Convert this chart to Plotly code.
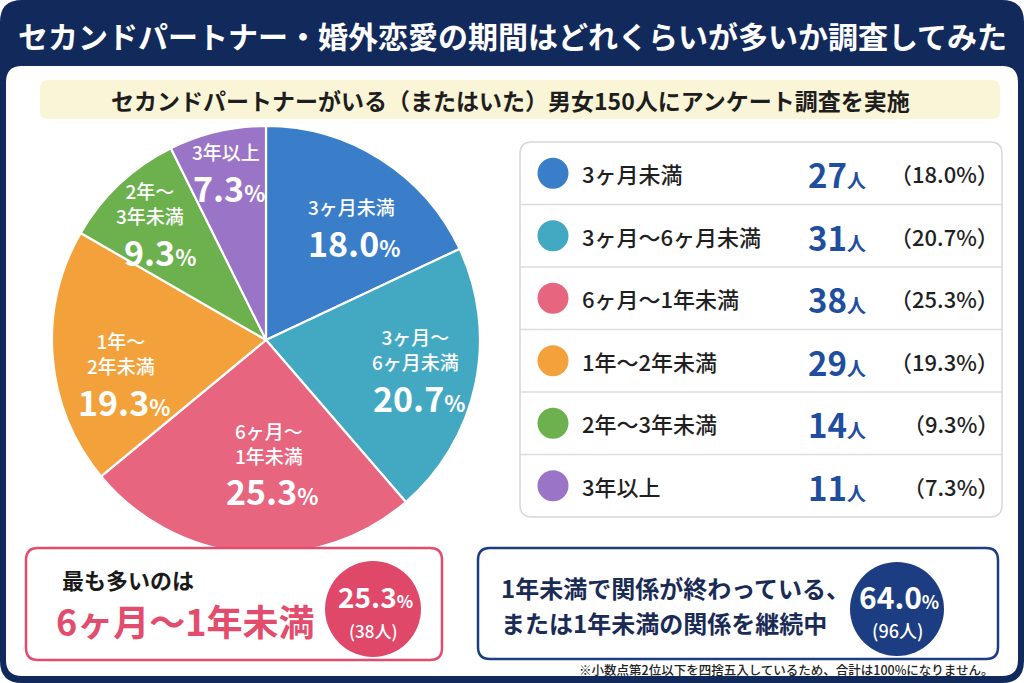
import math
import plotly.graph_objects as go

# ---------------- data ----------------
categories = ["3ヶ月未満", "3ヶ月～6ヶ月未満", "6ヶ月～1年未満", "1年～2年未満", "2年～3年未満", "3年以上"]
pie_labels = ["3ヶ月未満", "3ヶ月～<br>6ヶ月未満", "6ヶ月～<br>1年未満", "1年～<br>2年未満", "2年～<br>3年未満", "3年以上"]
counts = [27, 31, 38, 29, 14, 11]
colors = ["#3a7dc8", "#43a9c2", "#e8657f", "#f3a23b", "#6cb14e", "#9a74c7"]

title_text = "セカンドパートナー・婚外恋愛の期間はどれくらいが多いか調査してみた"
subtitle_text = "セカンドパートナーがいる（またはいた）男女150人にアンケート調査を実施"
top_intro = "最も多いのは"
under_year_lines = ["1年未満で関係が終わっている、", "または1年未満の関係を継続中"]
footnote = "※小数点第2位以下を四捨五入しているため、合計は100%になりません。"

# ---------------- layout helpers ----------------
W, H = 1024, 683
FONT = "Noto Sans CJK JP, Noto Sans, sans-serif"
NAVY = "#12295b"
PINK = "#e24d6d"
BLUE_NUM = "#1f4e9e"


def X(px):
    return px / W


def Y(py):
    return 1 - py / H


def rrect(x0, y0, x1, y1, r):
    return (f"M {X(x0 + r)},{Y(y0)} L {X(x1 - r)},{Y(y0)} Q {X(x1)},{Y(y0)} {X(x1)},{Y(y0 + r)} "
            f"L {X(x1)},{Y(y1 - r)} Q {X(x1)},{Y(y1)} {X(x1 - r)},{Y(y1)} "
            f"L {X(x0 + r)},{Y(y1)} Q {X(x0)},{Y(y1)} {X(x0)},{Y(y1 - r)} "
            f"L {X(x0)},{Y(y0 + r)} Q {X(x0)},{Y(y0)} {X(x0 + r)},{Y(y0)} Z")


def circle(cx, cy, r, fill, layer="above"):
    return dict(type="circle", xref="paper", yref="paper",
                x0=X(cx - r), x1=X(cx + r), y0=Y(cy + r), y1=Y(cy - r),
                fillcolor=fill, line=dict(width=0, color=fill), layer=layer)


def ann(text, x, y, size, color, weight=700, xanchor="center", yanchor="middle", align="center"):
    return dict(text=text, x=X(x), y=Y(y), xref="paper", yref="paper", showarrow=False,
                xanchor=xanchor, yanchor=yanchor, align=align,
                font=dict(family=FONT, size=size, color=color, weight=weight))


total = sum(counts)
pcts = [c / total * 100 for c in counts]

shapes = []
annotations = []

# frame and panels
shapes.append(dict(type="path", xref="paper", yref="paper", path=rrect(0, 0, W, H, 22),
                   fillcolor=NAVY, line=dict(width=0), layer="below"))
shapes.append(dict(type="path", xref="paper", yref="paper", path=rrect(6, 66, 1018, 676, 16),
                   fillcolor="white", line=dict(width=0), layer="below"))
shapes.append(dict(type="path", xref="paper", yref="paper", path=rrect(40, 80, 1000, 119, 8),
                   fillcolor="#fbf5d8", line=dict(width=0), layer="below"))

annotations.append(ann(title_text, 512, 35, 30, "white", 700))
annotations.append(ann(subtitle_text, 510, 100, 23, "#1e1e1e", 700))

# ---------------- pie ----------------
PCX, PCY, PR = 266, 340, 214
fig = go.Figure()
fig.add_trace(go.Pie(
    values=counts, labels=categories, sort=False, direction="clockwise", rotation=0,
    marker=dict(colors=colors, line=dict(color="white", width=2.2)),
    textinfo="none", hoverinfo="label+value+percent", showlegend=False,
    domain=dict(x=[X(PCX - PR), X(PCX + PR)], y=[Y(PCY + PR), Y(PCY - PR)]),
))

label_frac = [0.67, 0.71, 0.56, 0.69, 0.78, 0.82]
label_turn = [4, -2, -6, -7, -1, 0]
pct_dx = [3, 3, 3, 3, 10, 3]
cum = 0
for lab, v, p, f, t, pdx in zip(pie_labels, counts, pcts, label_frac, label_turn, pct_dx):
    mid = math.radians((cum + v / 2) / total * 360 + t)
    cum += v
    cx = PCX + f * PR * math.sin(mid)
    cy = PCY - f * PR * math.cos(mid)
    two = "<br>" in lab
    cat_dy, pct_dy = (-17, 31) if two else (-18, 18)
    annotations.append(ann(lab, cx, cy + cat_dy, 19, "white", 500))
    annotations.append(ann(f"{p:.1f}<span style='font-size:22px'>%</span>", cx + pdx, cy + pct_dy, 34, "white", 700))

# ---------------- legend table ----------------
LX0, LX1, LY0, LY1 = 520, 1002, 142, 517
shapes.append(dict(type="path", xref="paper", yref="paper", path=rrect(LX0, LY0, LX1, LY1, 12),
                   fillcolor="white", line=dict(width=1.5, color="#d6d6d6"), layer="below"))
row_h = (LY1 - LY0) / len(categories)
for i, (cat, c, p, col) in enumerate(zip(categories, counts, pcts, colors)):
    yc = LY0 + row_h * (i + 0.5)
    if i > 0:
        yl = LY0 + row_h * i
        shapes.append(dict(type="line", xref="paper", yref="paper", x0=X(LX0), x1=X(LX1), y0=Y(yl), y1=Y(yl),
                           line=dict(color="#dcdcdc", width=1.5), layer="below"))
    shapes.append(circle(553, yc, 15.5, col))
    annotations.append(ann(cat, 580, yc, 22, "#1f1f1f", 500, xanchor="left"))
    annotations.append(ann(f"{c}<span style='font-size:19px'>人</span>", 868, yc + 1, 33, BLUE_NUM, 700, xanchor="right"))
    annotations.append(ann(f"（{p:.1f}%）", 1001, yc, 22, "#1f1f1f", 500, xanchor="right"))

# ---------------- bottom boxes ----------------
# most common
imax = counts.index(max(counts))
shapes.append(dict(type="path", xref="paper", yref="paper", path=rrect(26, 548, 442, 660, 12),
                   fillcolor="white", line=dict(width=2.5, color=PINK), layer="above"))
annotations.append(ann(top_intro, 60, 579, 22, "#1a1a1a", 700, xanchor="left"))
annotations.append(ann(categories[imax], 54, 620, 36, PINK, 700, xanchor="left"))
shapes.append(circle(373, 609, 48, "#e0486a"))
annotations.append(ann(f"{pcts[imax]:.1f}<span style='font-size:17px'>%</span>", 375, 596, 28, "white", 700))
annotations.append(ann(f"({counts[imax]}人)", 373, 630, 17, "white", 500))

# under one year
under = sum(counts[:3])
shapes.append(dict(type="path", xref="paper", yref="paper", path=rrect(478, 548, 998, 659, 12),
                   fillcolor="white", line=dict(width=2.5, color="#1d3d82"), layer="above"))
annotations.append(ann(under_year_lines[0], 499, 587, 24, "#1a2b55", 700, xanchor="left"))
annotations.append(ann(under_year_lines[1], 499, 622, 24, "#1a2b55", 700, xanchor="left"))
shapes.append(circle(897, 609, 47, "#1d3d82"))
annotations.append(ann(f"{under / total * 100:.1f}<span style='font-size:18px'>%</span>", 899, 596, 30, "white", 700))
annotations.append(ann(f"({under}人)", 897, 630, 18, "white", 500))

annotations.append(ann(footnote, 996, 669, 12.5, "#222222", 500, xanchor="right"))

fig.update_layout(
    width=W, height=H, margin=dict(l=0, r=0, t=0, b=0),
    paper_bgcolor="white", plot_bgcolor="white",
    shapes=shapes, annotations=annotations,
    font=dict(family=FONT),
)

fig.write_html("out.html", config={"displayModeBar": False})
